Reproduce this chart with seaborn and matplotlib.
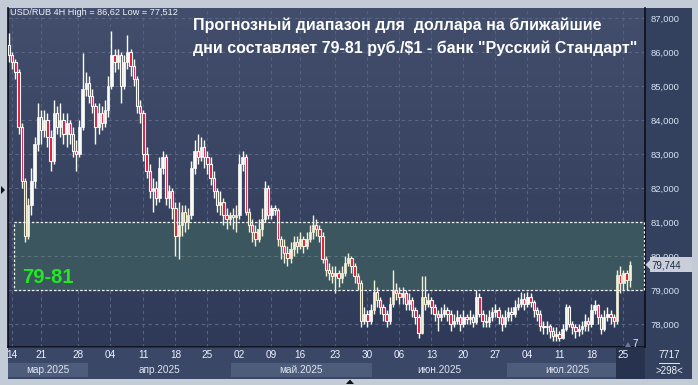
import numpy as np
import pandas as pd
import matplotlib
matplotlib.use("Agg")
import matplotlib.pyplot as plt
from matplotlib.patches import Rectangle, Polygon
from matplotlib.colors import LinearSegmentedColormap
import seaborn as sns

# ---------------- data ----------------
first_open = 86.2
closes = [85.9, 85.7, 85.4, 83.8, 82.2, 80.6, 81.5, 82.2, 83.3, 84.1,
          83.7, 84.0, 83.5, 82.8, 84.2, 83.8, 84.0, 83.6, 83.9, 83.6,
          83.1, 83.0, 83.8, 84.9, 85.1, 84.7, 84.4, 83.8, 84.2, 83.9,
          84.3, 85.0, 85.9, 85.7, 85.9, 85.0, 85.7, 86.0, 85.6, 85.2,
          84.4, 84.2, 83.0, 82.5, 81.9, 82.0, 81.7, 82.6, 82.9, 81.7,
          81.9, 81.4, 80.6, 80.9, 81.3, 81.0, 81.2, 82.6, 83.1, 82.9,
          83.2, 82.9, 82.7, 82.3, 81.9, 81.5, 81.6, 81.2, 81.1, 81.2,
          81.15, 81.2, 82.7, 82.9, 81.3, 80.9, 80.7, 80.5, 80.8, 81.1,
          82.0, 81.2, 81.4, 81.35, 80.5, 80.3, 80.1, 79.95, 80.2, 80.4,
          80.3, 80.5, 80.3, 80.5, 80.7, 80.9, 80.8, 80.6, 79.9, 79.6,
          79.5, 79.4, 79.5, 79.35, 79.5, 79.8, 79.95, 79.7, 79.4, 79.2,
          78.1, 78.3, 78.1, 78.4, 78.95, 78.7, 78.5, 78.3, 78.1, 78.6,
          79.0, 78.9, 78.8, 78.9, 78.6, 78.7, 78.4, 78.2, 77.75, 78.8,
          78.6, 78.7, 78.5, 78.3, 78.2, 78.3, 78.4, 78.3, 78.0, 78.1,
          78.2, 78.0, 78.2, 78.15, 78.2, 78.05, 78.8, 78.3, 78.1, 78.05,
          78.2, 78.35, 78.4, 78.2, 78.0, 78.2, 78.35, 78.3, 78.5, 78.6,
          78.75, 78.6, 78.8, 78.65, 78.4, 78.3, 77.95, 77.9, 77.95, 77.8,
          77.65, 77.7, 77.6, 77.85, 78.5, 78.0, 77.9, 77.8, 77.85, 77.95,
          78.1, 78.0, 78.4, 78.55, 78.2, 77.85, 78.2, 78.3, 78.2, 78.1,
          79.45, 79.2, 79.5, 79.3, 79.744]
highs = [86.56, 86.0, 85.8, 85.5, 83.9, 82.3, 81.7, 82.6, 83.5, 84.5,
         84.3, 84.3, 84.2, 83.7, 84.6, 84.4, 84.5, 84.2, 84.2, 84.0,
         83.8, 83.4, 84.0, 85.97, 85.4, 85.3, 84.9, 84.5, 84.5, 84.4,
         84.6, 85.3, 86.62, 86.1, 86.1, 86.0, 85.9, 86.5, 86.1, 85.8,
         85.3, 84.6, 84.3, 83.2, 82.7, 82.3, 82.2, 82.9, 83.1, 83.0,
         82.1, 82.0, 81.6, 81.6, 81.5, 81.5, 81.4, 82.8, 83.4, 83.6,
         83.5, 83.4, 83.1, 82.9, 82.5, 82.0, 81.9, 81.7, 81.4, 81.3,
         81.4, 81.5, 83.0, 83.1, 83.0, 81.4, 81.1, 80.9, 81.1, 81.4,
         82.2, 82.1, 81.5, 81.5, 81.4, 80.6, 80.5, 80.3, 80.4, 80.6,
         80.6, 80.7, 80.6, 80.7, 80.9, 81.2, 81.1, 80.9, 80.7, 80.0,
         79.8, 79.7, 79.7, 79.6, 79.7, 80.0, 80.1, 80.0, 79.8, 79.5,
         79.3, 78.5, 78.4, 78.6, 79.3, 79.1, 78.8, 78.6, 78.4, 78.8,
         79.6, 79.2, 79.1, 79.1, 79.0, 78.9, 78.8, 78.5, 78.3, 79.4,
         79.4, 78.9, 78.8, 78.6, 78.4, 78.5, 78.6, 78.5, 78.4, 78.3,
         78.4, 78.3, 78.4, 78.3, 78.4, 78.3, 79.0, 78.9, 78.4, 78.3,
         78.4, 78.5, 78.6, 78.5, 78.3, 78.4, 78.5, 78.5, 78.7, 78.8,
         78.95, 78.9, 78.95, 78.9, 78.7, 78.5, 78.4, 78.1, 78.1, 78.0,
         77.9, 77.9, 77.8, 78.0, 78.6, 78.55, 78.1, 78.0, 78.0, 78.1,
         78.3, 78.2, 78.6, 78.7, 78.6, 78.3, 78.4, 78.5, 78.4, 78.3,
         79.6, 79.7, 79.6, 79.6, 79.85]
lows = [85.7, 85.5, 85.2, 83.6, 82.0, 80.4, 80.5, 81.2, 82.0, 83.1,
        83.3, 83.5, 83.2, 82.5, 82.7, 83.6, 83.5, 83.3, 83.2, 83.3,
        82.9, 82.5, 82.9, 83.7, 84.7, 84.5, 84.2, 83.3, 83.6, 83.7,
        83.8, 84.1, 84.9, 85.4, 85.5, 84.5, 84.9, 85.5, 85.3, 85.0,
        84.2, 83.9, 82.8, 82.3, 81.7, 81.3, 81.5, 81.6, 82.4, 81.5,
        81.4, 81.1, 80.0, 79.9, 80.6, 80.7, 80.8, 81.1, 82.4, 82.7,
        82.8, 82.6, 82.4, 82.1, 81.7, 81.3, 81.2, 80.9, 80.8, 80.9,
        80.8, 80.7, 81.1, 82.5, 81.2, 80.7, 80.4, 80.3, 80.4, 80.6,
        81.0, 81.1, 81.1, 81.2, 80.3, 79.9, 79.8, 79.7, 79.8, 80.0,
        80.1, 80.2, 80.1, 80.2, 80.4, 80.5, 80.6, 80.4, 79.8, 79.4,
        79.3, 79.2, 78.9, 79.1, 79.2, 79.4, 79.7, 79.5, 79.2, 79.0,
        77.9, 78.0, 77.9, 78.0, 78.3, 78.5, 78.3, 78.1, 77.9, 78.0,
        78.5, 78.7, 78.6, 78.6, 78.4, 78.4, 78.2, 78.0, 77.6, 77.7,
        78.4, 78.5, 78.3, 78.1, 77.8, 78.1, 78.2, 78.1, 77.8, 77.9,
        78.0, 77.8, 77.9, 78.0, 78.0, 77.9, 78.0, 78.2, 77.9, 77.9,
        77.9, 78.1, 78.2, 78.0, 77.8, 77.9, 78.1, 78.1, 78.2, 78.4,
        78.5, 78.4, 78.5, 78.5, 78.2, 78.1, 77.8, 77.7, 77.7, 77.6,
        77.5, 77.512, 77.512, 77.55, 77.8, 77.9, 77.7, 77.6, 77.65, 77.7,
        77.8, 77.8, 77.9, 78.3, 78.0, 77.7, 77.8, 78.1, 78.0, 77.9,
        78.0, 78.9, 79.0, 79.0, 79.1]

day_tick_idx = [1, 10, 21.5, 31.5, 42, 52, 62, 72, 82, 91, 102, 112, 122,
                132, 142, 152, 162, 172, 182, 192]
day_labels = ["14", "21", "28", "04", "11", "18", "25", "02", "09", "16",
              "23", "30", "06", "13", "20", "27", "04", "11", "18", "25"]
month_edges = [-0.3, 24.7, 69.4, 113.4, 155.6, 193.5]
month_labels = ["мар.2025", "апр.2025", "май.2025", "июн.2025", "июл.2025"]
month_shaded = [True, False, True, False, True]
price_ticks = [78, 79, 80, 81, 82, 83, 84, 85, 86, 87]
zone_low, zone_high = 79, 81
last_price = 79.744
header = "USD/RUB 4H High = 86,62 Low = 77,512"
title_lines = ["Прогнозный диапазон для  доллара на ближайшие",
               "дни составляет 79-81 руб./$1 - банк \"Русский Стандарт\""]
zone_label = "79-81"

# ---------------- frame ----------------
df = pd.DataFrame({"close": closes, "high": highs, "low": lows})
df["open"] = [first_open] + closes[:-1]
df["idx"] = np.arange(len(df))

sns.set_theme(style="dark")
plt.rcParams["font.family"] = ["Liberation Sans", "DejaVu Sans"]

W, H = 698, 385
fig = plt.figure(figsize=(W / 100, H / 100), dpi=100)
fig.patch.set_facecolor("#c3cbd7")


def fx(px):
    return px / W


def fy(py):
    return 1 - py / H


XMIN, XMAX = -0.31, 198.75
YMIN, YMAX = 77.324, 87.294

# right/bottom panels background
pan = fig.add_axes([fx(645), fy(379), 47 / W, (379 - 8) / H])
pan.set_facecolor("#33405e")
pan.set_xticks([]); pan.set_yticks([])
for s in pan.spines.values():
    s.set_visible(False)

bax = fig.add_axes([fx(8), fy(379), 637 / W, 31 / H])
bax.set_facecolor("#3a4767")
bax.set_xlim(XMIN, XMAX)
bax.set_ylim(0, 1)
bax.set_xticks([]); bax.set_yticks([])
for s in bax.spines.values():
    s.set_visible(False)
for (a, b), lab, sh in zip(zip(month_edges[:-1], month_edges[1:]), month_labels, month_shaded):
    if sh:
        bax.add_patch(Rectangle((a, 0.06), b - a, 0.46, facecolor="#4e5c7b",
                                edgecolor="none", zorder=1))
    bax.text((a + b) / 2, 0.29, lab, ha="center", va="center", fontsize=7.2,
             color="#dfe6f1", zorder=3)
for t, lab in zip(day_tick_idx, day_labels):
    bax.text(t, 0.76, lab, ha="center", va="center", fontsize=7.2,
             color="#eef2f8", zorder=3)
bax.add_patch(Rectangle((189.7, 0.0), XMAX - 189.7, 1.0, facecolor="#27324f",
                        edgecolor="none", zorder=2))

# main axes
ax = fig.add_axes([fx(8), fy(347), 637 / W, 339 / H])
ax.set_xlim(XMIN, XMAX)
ax.set_ylim(YMIN, YMAX)
cmap = LinearSegmentedColormap.from_list("bg", ["#424e6c", "#2e3a58"])
ax.imshow(np.linspace(0, 1, 256).reshape(-1, 1), cmap=cmap, aspect="auto",
          extent=[XMIN, XMAX, YMIN, YMAX], zorder=0, interpolation="bilinear")

for p in price_ticks:
    ax.axhline(p, color="#5a6785", lw=0.8, ls=(0, (3, 3)), zorder=1)
for t in day_tick_idx:
    ax.axvline(t, color="#56637f", lw=0.8, ls=(0, (3, 3)), zorder=1)

# zone
ax.add_patch(Rectangle((1.56, zone_low), 198.4 - 1.56, zone_high - zone_low,
                       facecolor="#3c5860", edgecolor="none", zorder=1.5, alpha=0.95))
ax.add_patch(Rectangle((1.56, zone_low), 198.4 - 1.56, zone_high - zone_low,
                       facecolor="none", edgecolor="#f2f2f2", lw=0.9,
                       ls=(0, (2, 1.5)), zorder=5))
for p in price_ticks:
    if zone_low < p < zone_high:
        ax.plot([1.56, 198.4], [p, p], color="#5c737c", lw=0.8, ls=(0, (3, 3)), zorder=1.6)

# candles
up = df["close"] >= df["open"]
in_zone = (df["high"] > zone_low) & (df["low"] < zone_high)
wick_col = np.where(in_zone, "#f3f1d8", "#fbfbf6")
ax.vlines(df["idx"], df["low"], df["high"], colors=wick_col, lw=1.0, zorder=3)
body_up = (df["close"] - df["open"]).clip(lower=0.04)
body_dn = (df["open"] - df["close"]).clip(lower=0.04)
ax.bar(df["idx"][up], body_up[up], bottom=df["open"][up], width=0.78,
       color=wick_col[up.values], edgecolor=wick_col[up.values], lw=0.5, zorder=4)
ax.bar(df["idx"][~up], body_dn[~up], bottom=df["close"][~up], width=0.78,
       color="#e3163e", edgecolor=wick_col[(~up).values], lw=0.8, zorder=4)

ax.text(4.0, 79.38, zone_label, fontsize=14.5, fontweight="bold",
        color="#22e822", va="center", ha="left", zorder=6)

ax.set_xticks([])
ax.yaxis.tick_right()
ax.set_yticks(price_ticks)
ax.set_yticklabels([f"{p},000" for p in price_ticks])
ax.tick_params(axis="y", length=0, pad=4, labelsize=6.8, colors="#d9e3f3")
ax.grid(False)
ax.spines["top"].set_visible(False)
for side in ["left", "right", "bottom"]:
    ax.spines[side].set_color("#0c0f18")
    ax.spines[side].set_linewidth(1.2)

# texts
fig.text(fx(10), fy(12.5), header, fontsize=6.6, color="#eef2f8", va="center", ha="left")
fig.text(fx(193), fy(25), title_lines[0], fontsize=11.5, fontweight="bold",
         color="#ffffff", va="center", ha="left")
fig.text(fx(193), fy(48), title_lines[1], fontsize=11.5, fontweight="bold",
         color="#ffffff", va="center", ha="left")

# last price marker
yl = 347 - (last_price - YMIN) / (YMAX - YMIN) * 339
fig.patches.append(Rectangle((fx(650), fy(yl + 7.5)), 42 / W, 15 / H,
                             transform=fig.transFigure, facecolor="#c9ced8",
                             edgecolor="none", zorder=5))
fig.patches.append(Polygon([[fx(645.5), fy(yl)], [fx(650.5), fy(yl - 5)], [fx(650.5), fy(yl + 5)]],
                           closed=True, transform=fig.transFigure,
                           facecolor="#c9ced8", edgecolor="none", zorder=5))
fig.text(fx(651), fy(yl + 0.5), f"{last_price:.3f}".replace(".", ","), fontsize=7,
         color="#1c2a48", va="center", ha="left", zorder=6)

# bottom-right box
fig.text(fx(669), fy(355), "7717", fontsize=7, color="#eef2f8", ha="center", va="center")
fig.patches.append(Rectangle((fx(659), fy(363.5)), 21 / W, 0.8 / H,
                             transform=fig.transFigure, facecolor="#dde3ee",
                             edgecolor="none"))
fig.text(fx(669), fy(371), ">298<", fontsize=7, color="#eef2f8", ha="center", va="center")
fig.text(fx(635.5), fy(344), "7", fontsize=7, color="#eef2f8", ha="center", va="center")
fig.patches.append(Polygon([[fx(625), fy(347)], [fx(631), fy(347)], [fx(628), fy(342)]],
                           closed=True, transform=fig.transFigure,
                           facecolor="#6d7894", edgecolor="none"))

# small frame markers
fig.patches.append(Polygon([[fx(1), fy(186)], [fx(1), fy(194)], [fx(5), fy(190)]],
                           closed=True, transform=fig.transFigure,
                           facecolor="#111111", edgecolor="none"))
fig.patches.append(Polygon([[fx(346), fy(384)], [fx(354), fy(384)], [fx(350), fy(379.5)]],
                           closed=True, transform=fig.transFigure,
                           facecolor="#111111", edgecolor="none"))

fig.savefig("out.png", dpi=100, facecolor=fig.get_facecolor())
